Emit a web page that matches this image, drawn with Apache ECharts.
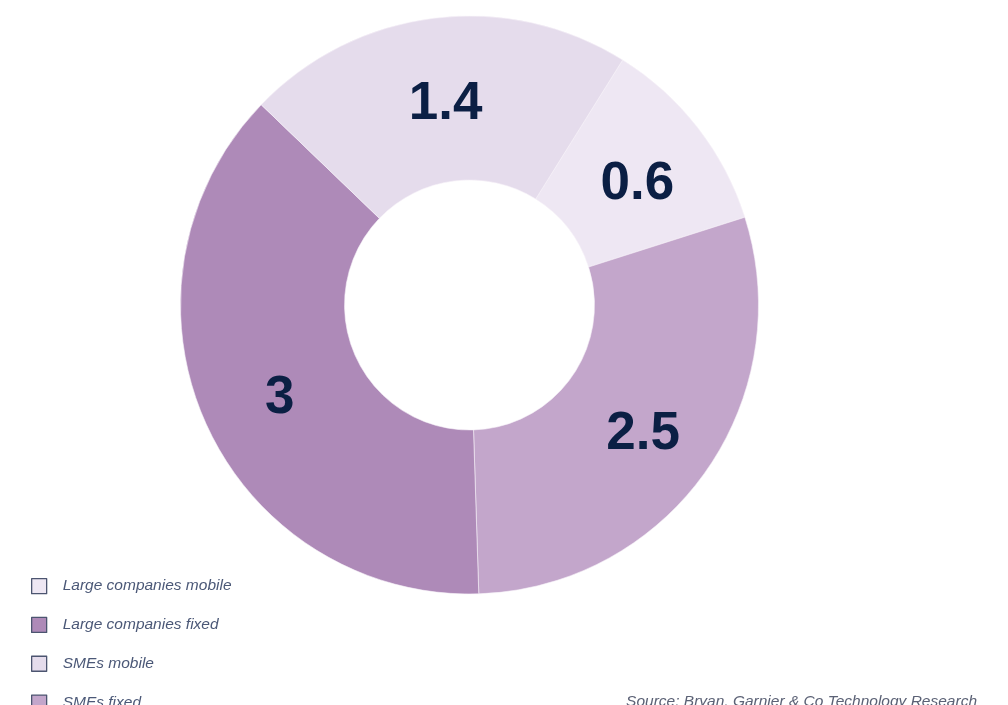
<!DOCTYPE html>
<html>
<head>
<meta charset="utf-8">
<script src="https://cdn.jsdelivr.net/npm/echarts@6/dist/echarts.min.js"></script>
<style>
html,body{margin:0;padding:0;background:#fff;}
#chart{width:1008px;height:705px;}
</style>
</head>
<body>
<div id="chart"></div>
<script>
// Slices in clockwise order starting at the top-right
const categories = ['Large companies mobile', 'SMEs fixed', 'Large companies fixed', 'SMEs mobile'];
const labelValues = [0.6, 2.5, 3, 1.4];            // numbers printed on the slices
const sliceShares = [11.2, 29.4, 37.7, 21.7];      // share of the ring (%) as drawn in the picture
const legendOrder = ['Large companies mobile', 'Large companies fixed', 'SMEs mobile', 'SMEs fixed'];
const sliceColors = ['#eee7f3', '#c3a6cb', '#ae8ab8', '#e5dcec'];
const sourceText = 'Source: Bryan, Garnier & Co Technology Research';

const chart = echarts.init(document.getElementById('chart'), null, {renderer: 'canvas'});
chart.setOption({
  animation: false,
  backgroundColor: '#ffffff',
  title: {
    text: sourceText,
    right: 31,
    top: 694,
    padding: 0,
    textStyle: {fontFamily: 'Liberation Sans, Arial, sans-serif', fontStyle: 'italic', fontWeight: 'normal', fontSize: 15.5, color: '#5b6175'}
  },
  legend: {
    orient: 'vertical',
    left: 31,
    top: 578,
    height: 200,
    padding: 0,
    itemGap: 22.5,
    itemWidth: 15,
    itemHeight: 15,
    icon: 'rect',
    selectedMode: false,
    data: legendOrder,
    itemStyle: {borderColor: '#4c5570', borderWidth: 1.3},
    textStyle: {fontFamily: 'Liberation Sans, Arial, sans-serif', fontStyle: 'italic', fontSize: 15.5, lineHeight: 15, color: '#4b5877', padding: [0, 0, 0, 11]}
  },
  series: [{
    type: 'pie',
    center: [469.5, 305],
    radius: [125, 289],
    startAngle: 58,
    clockwise: true,
    avoidLabelOverlap: false,
    itemStyle: {borderColor: '#f6f2f8', borderWidth: 0.6},
    label: {
      show: true,
      position: 'inside',
      formatter: p => String(labelValues[p.dataIndex]),
      fontFamily: 'Liberation Sans, Arial, sans-serif',
      fontWeight: 'bold',
      fontSize: 53,
      offset: [2, 8],
      color: '#0b1f44'
    },
    labelLine: {show: false},
    emphasis: {disabled: true},
    data: categories.map((c, i) => ({name: c, value: sliceShares[i], itemStyle: {color: sliceColors[i]}}))
  }]
});
</script>
</body>
</html>
